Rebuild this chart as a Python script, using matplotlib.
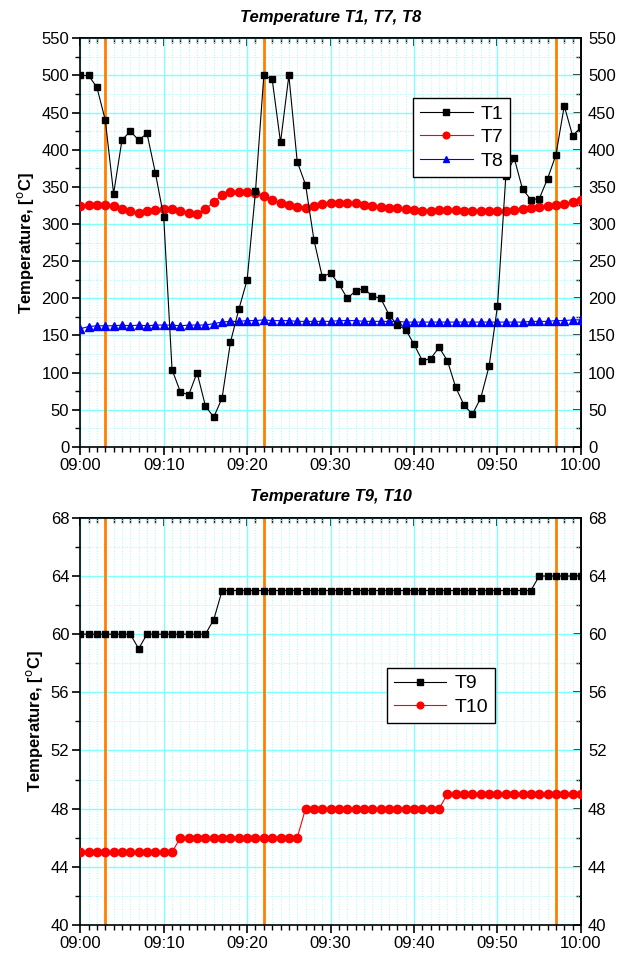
import matplotlib
matplotlib.use('Agg')
import matplotlib.pyplot as plt
from matplotlib.ticker import MultipleLocator, NullFormatter, FuncFormatter

plt.rcParams['font.family'] = ['Liberation Sans', 'DejaVu Sans']

# minutes after 09:00
minutes = list(range(61))

t1 = [500, 500, 484, 440, 341, 413, 425, 413, 422, 369,
      310, 104, 74, 70, 100, 55, 40, 66, 141, 185,
      225, 344, 500, 495, 410, 500, 384, 353, 279, 229,
      234, 219, 200, 210, 213, 203, 200, 178, 164, 158,
      138, 116, 119, 134, 116, 80, 56, 44, 66, 109,
      190, 365, 389, 347, 333, 334, 361, 393, 459, 419,
      430]
t7 = [324, 325, 326, 325, 324, 320, 318, 315, 317, 319,
      320, 320, 318, 315, 314, 320, 330, 339, 343, 343,
      343, 342, 338, 333, 329, 325, 323, 321, 324, 327,
      328, 329, 329, 328, 325, 324, 323, 322, 321, 320,
      319, 318, 318, 319, 319, 319, 318, 318, 318, 318,
      318, 318, 319, 320, 322, 323, 324, 325, 327, 330,
      332]
t8 = [159, 162, 163, 163, 163, 164, 163, 164, 163, 164,
      164, 164, 163, 164, 164, 164, 166, 168, 169, 169,
      170, 170, 171, 170, 170, 170, 169, 169, 169, 169,
      169, 170, 170, 170, 169, 169, 169, 169, 169, 168,
      168, 168, 168, 168, 168, 168, 168, 168, 168, 168,
      168, 168, 168, 168, 169, 169, 169, 170, 170, 171,
      171]
t9 = [60, 60, 60, 60, 60, 60, 60, 59, 60, 60,
      60, 60, 60, 60, 60, 60, 61, 63, 63, 63,
      63, 63, 63, 63, 63, 63, 63, 63, 63, 63,
      63, 63, 63, 63, 63, 63, 63, 63, 63, 63,
      63, 63, 63, 63, 63, 63, 63, 63, 63, 63,
      63, 63, 63, 63, 63, 64, 64, 64, 64, 64,
      64]
t10 = [45] * 12 + [46] * 15 + [48] * 17 + [49] * 17

events = [3, 22, 57]


def hhmm(x, pos=None):
    m = int(round(x))
    return '{:02d}:{:02d}'.format(9 + m // 60, m % 60)


def style_axes(ax, ymin, ymax, ymajor, yminor):
    ax.set_xlim(minutes[0], minutes[-1])
    ax.set_ylim(ymin, ymax)
    ax.xaxis.set_major_locator(MultipleLocator(10))
    ax.xaxis.set_minor_locator(MultipleLocator(1))
    ax.xaxis.set_major_formatter(FuncFormatter(hhmm))
    ax.yaxis.set_major_locator(MultipleLocator(ymajor))
    ax.yaxis.set_minor_locator(MultipleLocator(yminor))
    ax.grid(True, which='major', color='#80ffff', lw=1.0)
    ax.grid(True, which='minor', color='#a0ffff', lw=0.7, ls=':')
    ax.set_axisbelow(True)
    ax.tick_params(axis='both', which='both', direction='out', labelsize=12, pad=2)
    ax.tick_params(axis='both', which='major', length=6, width=1.2)
    ax.tick_params(axis='both', which='minor', length=3.5, width=1)

    # mirrored axes: ticks pointing inward, labels only on the right
    top = ax.secondary_xaxis('top')
    top.xaxis.set_major_locator(MultipleLocator(10))
    top.xaxis.set_minor_locator(MultipleLocator(1))
    top.xaxis.set_major_formatter(NullFormatter())
    top.tick_params(which='both', direction='in')
    top.tick_params(which='major', length=6, width=1.2)
    top.tick_params(which='minor', length=3.5, width=1)
    right = ax.secondary_yaxis('right')
    right.yaxis.set_major_locator(MultipleLocator(ymajor))
    right.yaxis.set_minor_locator(MultipleLocator(yminor))
    right.tick_params(which='both', direction='in', labelsize=12, pad=5)
    right.tick_params(which='major', length=6, width=1.2)
    right.tick_params(which='minor', length=3.5, width=1)
    for a in (ax, top, right):
        for s in a.spines.values():
            s.set_linewidth(1.2)

    for e in events:
        ax.axvline(e, color='#ff8000', lw=2, zorder=1)
    ax.set_ylabel('Temperature, [$^{\\rm o}$C]', fontsize=12, fontweight='bold',
                  labelpad=4)


def add_legend(ax, x, y):
    leg = ax.legend(loc='upper left', bbox_to_anchor=(x, y), fontsize=14,
                    frameon=True, fancybox=False, edgecolor='black',
                    framealpha=1, handlelength=2.7, handletextpad=0.4,
                    borderpad=0.35, labelspacing=0.3, borderaxespad=0,
                    markerscale=0.8)
    leg.get_frame().set_linewidth(1)


fig = plt.figure(figsize=(6.22, 9.59), dpi=100)
ax1 = fig.add_axes([0.129, 0.534, 0.805, 0.426])
ax2 = fig.add_axes([0.129, 0.0355, 0.805, 0.4245])

style_axes(ax1, 0, 550, 50, 25)
ax1.plot(minutes, t1, color='black', lw=0.8, marker='s', ms=5, label='T1', zorder=4)
ax1.plot(minutes, t7, color='#ff0000', lw=0.8, marker='o', ms=6, label='T7', zorder=3)
ax1.plot(minutes, t8, color='#0000ff', lw=0.8, marker='^', ms=6, label='T8', zorder=3)
ax1.set_title('Temperature T1, T7, T8', fontsize=12, fontweight='bold',
              fontstyle='italic', pad=12)
add_legend(ax1, 0.665, 0.853)

style_axes(ax2, 40, 68, 4, 2)
ax2.plot(minutes, t9, color='black', lw=0.8, marker='s', ms=5, label='T9', zorder=4)
ax2.plot(minutes, t10, color='#ff0000', lw=0.8, marker='o', ms=6, label='T10', zorder=3)
ax2.set_title('Temperature T9, T10', fontsize=12, fontweight='bold',
              fontstyle='italic', pad=12)
add_legend(ax2, 0.613, 0.631)

fig.savefig('out.png', dpi=100)
